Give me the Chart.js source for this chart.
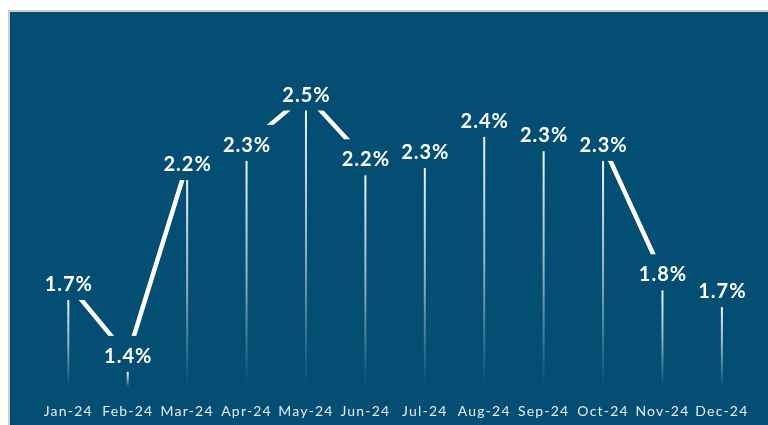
<!DOCTYPE html>
<html>
<head>
<meta charset="utf-8">
<script src="https://cdn.jsdelivr.net/npm/chart.js@4/dist/chart.umd.min.js"></script>
<style>
    body { margin: 0; background: #ffffff; }
    #frame {
        position: absolute;
        left: 8px;
        top: 10px;
        width: 758px;
        height: 413px;
        border-left: 2px solid #cfcfcf;
        border-top: 2px solid #cfcfcf;
        background: #034e72;
    }
    canvas { display: block; }
</style>
</head>
<body>
<div id="frame"><canvas id="inflation" width="758" height="413"></canvas></div>
<script>
var months = ["Jan-24", "Feb-24", "Mar-24", "Apr-24", "May-24", "Jun-24", "Jul-24", "Aug-24", "Sep-24", "Oct-24", "Nov-24", "Dec-24"];
var rates = [1.72, 1.42, 2.22, 2.30, 2.51, 2.24, 2.27, 2.40, 2.34, 2.30, 1.76, 1.69];

var background = "#034e72";

// letter spacing for the month labels, reset before the series is drawn
var spacingPlugin = {
    id: "spacing",
    beforeDraw: function(chart)
    {
        chart.ctx.letterSpacing = "1.2px";
    },
    beforeDatasetsDraw: function(chart)
    {
        chart.ctx.letterSpacing = "0px";
    }
};

// value boxes (filled with the background so they cut the line) and drop lines
var labelPlugin = {
    id: "valueLabels",
    afterDatasetsDraw: function(chart)
    {
        var ctx = chart.ctx;
        var meta = chart.getDatasetMeta(0);
        var bottom = chart.chartArea.bottom;

        ctx.save();
        ctx.font = "bold 20px Lato";
        ctx.letterSpacing = "1px";

        for(var i = 0; i < meta.data.length; ++i)
        {
            var pt = meta.data[i];
            var text = rates[i].toFixed(1) + "%";
            var w = ctx.measureText(text).width;

            ctx.fillStyle = background;
            ctx.fillRect(pt.x - w / 2 - 9, pt.y - 20, w + 18, 36);

            ctx.fillStyle = "#ffffff";
            ctx.textAlign = "center";
            ctx.textBaseline = "alphabetic";
            ctx.fillText(text, pt.x + 0.5, pt.y + 7);

            var top = pt.y + 16;
            var grad = ctx.createLinearGradient(0, top, 0, bottom);
            grad.addColorStop(0, "rgba(240, 244, 247, 1)");
            grad.addColorStop(0.5, "rgba(240, 244, 247, 0.6)");
            grad.addColorStop(1, "rgba(240, 244, 247, 0)");

            ctx.strokeStyle = grad;
            ctx.lineWidth = 2;
            ctx.beginPath();
            ctx.moveTo(pt.x, top);
            ctx.lineTo(pt.x, bottom);
            ctx.stroke();
        }

        ctx.restore();
    }
};

new Chart(document.getElementById("inflation").getContext("2d"), {
    type: "line",
    data: {
        labels: months,
        datasets: [{
            data: rates,
            borderColor: "#ffffff",
            borderWidth: 4.5,
            pointRadius: 0,
            pointHoverRadius: 0,
            tension: 0,
            fill: false
        }]
    },
    options: {
        responsive: false,
        animation: false,
        layout: {
            padding: { left: 28.6, right: 16.4, top: 13, bottom: 0 }
        },
        plugins: {
            legend: { display: false },
            tooltip: { enabled: false }
        },
        scales: {
            x: {
                offset: true,
                grid: { display: false, drawTicks: false },
                border: { display: false },
                ticks: {
                    color: "#e6ecf0",
                    padding: 16,
                    maxRotation: 0,
                    autoSkip: false,
                    font: { family: "Lato", size: 14 }
                },
                afterFit: function(scale)
                {
                    scale.height = 38;
                }
            },
            y: {
                display: false,
                min: 1.29,
                max: 2.8
            }
        }
    },
    plugins: [spacingPlugin, labelPlugin]
});
</script>
</body>
</html>
